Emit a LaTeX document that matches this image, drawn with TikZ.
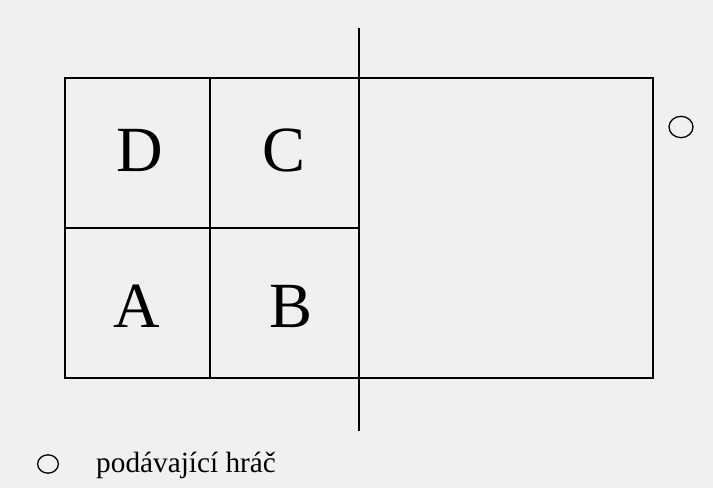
\documentclass[tikz,border=0pt]{standalone}
\usepackage{fontspec}
\setmainfont{Liberation Serif}
\usepackage{xcolor}
\usetikzlibrary{positioning, shapes}
\definecolor{paper}{RGB}{240,240,240}

\begin{document}
\begin{tikzpicture}[x=0.03cm, y=-0.03cm,
    court/.style={line width=2pt, black},
    zone/.style={font=\fontsize{55}{60}\selectfont},
    player/.style={draw, ellipse, line width=1.1pt, inner sep=0pt}]
      % Background
      \fill[paper] (0, 0) rectangle (713, 488);
      \useasboundingbox (0, 0) rectangle (713, 488);

      % Court
      \draw[court] (65, 78) rectangle (653, 378);
      \draw[court] (210, 78) -- (210, 378);
      \draw[court] (65, 228) -- (359, 228);
      \coordinate (nettop) at (359, 28);
      \coordinate (netbot) at (359, 431);
      \draw[court] (nettop) -- (netbot);

      % Zones
      \node[zone] (zD) at (140, 150) {D};
      \node[zone] (zC) at (284, 150) {C};
      \node[zone] (zA) at (137, 306) {A};
      \node[zone] (zB) at (291, 306) {B};

      % Server
      \node[player, minimum width=0.72cm, minimum height=0.64cm] (srv) at (681, 127) {};

      % Legend
      \node[player, minimum width=0.62cm, minimum height=0.55cm] (leg) at (48, 464) {};
      \node[anchor=base west, font=\fontsize{25}{28}\selectfont, inner sep=0pt] (legtxt) at (96, 472) {podávající hráč};
    \end{tikzpicture}
\end{document}
